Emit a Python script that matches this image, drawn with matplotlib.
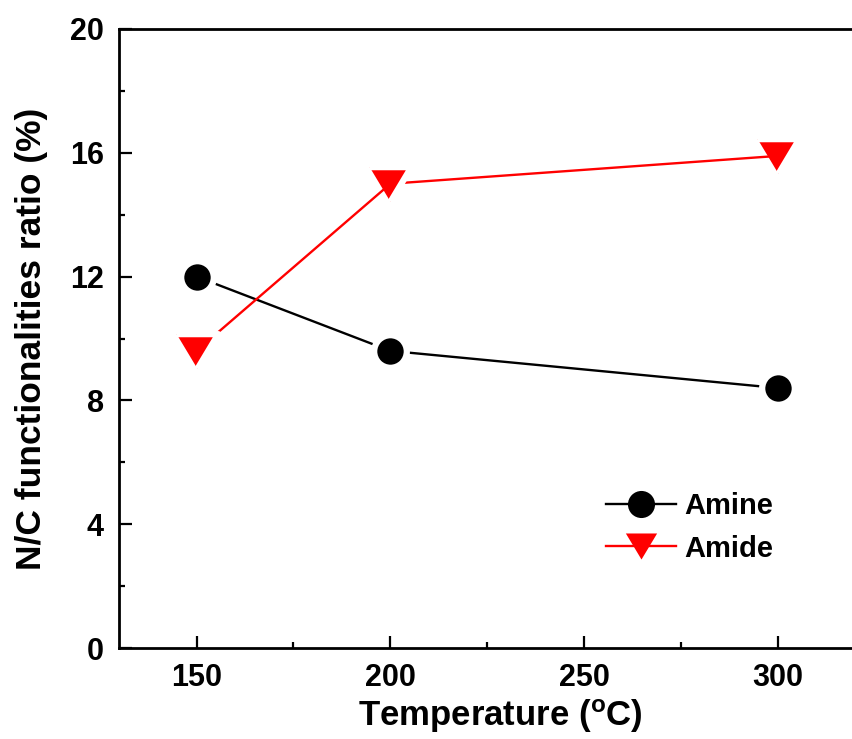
import matplotlib
matplotlib.use("Agg")
import matplotlib.pyplot as plt
from matplotlib.ticker import MultipleLocator

temperature = [150, 200, 300]
amine = [12.0, 9.6, 8.4]
amide = [9.6, 15.0, 15.9]
xticks = [150, 200, 250, 300]
yticks = [0, 4, 8, 12, 16, 20]

plt.rcParams['font.family'] = ['Liberation Sans', 'DejaVu Sans']
plt.rcParams['font.weight'] = 'bold'

fig = plt.figure(figsize=(8.52, 7.39), dpi=100)
ax = fig.add_axes([119/852, 91/739, (855.5-119)/852, (648-29)/739])

tri = [(-1.2, 1), (1.2, 1), (0, -1)]
ax.plot(temperature, amine, color='black', lw=1.7, marker='o', ms=23.5,
        mfc='black', mec='white', mew=4.5, label='Amine')
ax.plot(temperature, amide, color='red', lw=1.7, marker=tri, ms=30,
        mfc='red', mec='white', mew=4.5, label='Amide')

ax.set_xlim(130, 320)
ax.set_ylim(0, 20)
ax.set_xticks(xticks)
ax.set_yticks(yticks)
ax.xaxis.set_minor_locator(MultipleLocator(25))
ax.yaxis.set_minor_locator(MultipleLocator(2))
ax.tick_params(which='major', direction='in', length=9, width=1.6, labelsize=22, pad=11)
ax.tick_params(which='minor', direction='in', length=4.5, width=1.6)
ax.tick_params(top=False, right=False, which='both')
for lab in ax.get_xticklabels() + ax.get_yticklabels():
    lab.set_fontweight('bold')
for s in ax.spines.values():
    s.set_linewidth(2)

ax.set_xlabel('Temperature ($\\mathregular{^{o}}$C)', fontsize=25, fontweight='bold')
ax.xaxis.set_label_coords((500-119)/736.5, -0.08)
ax.set_ylabel('N/C functionalities ratio (%)', fontsize=25.5, fontweight='bold')
ax.yaxis.set_label_coords(-0.097, 0.5)

leg = ax.legend(loc='upper left', bbox_to_anchor=(606/852, 1-492/739),
                bbox_transform=fig.transFigure, frameon=False,
                fontsize=21, handlelength=2.4, handletextpad=0.3, labelspacing=0.5,
                borderaxespad=0, borderpad=0)
for t in leg.get_texts():
    t.set_fontweight('bold')
handles = leg.legend_handles
handles[0].set_markeredgewidth(0)
handles[0].set_markersize(19.5)
handles[1].set_markeredgewidth(0)
handles[1].set_markersize(22.5)

fig.savefig('out.png', dpi=100)
